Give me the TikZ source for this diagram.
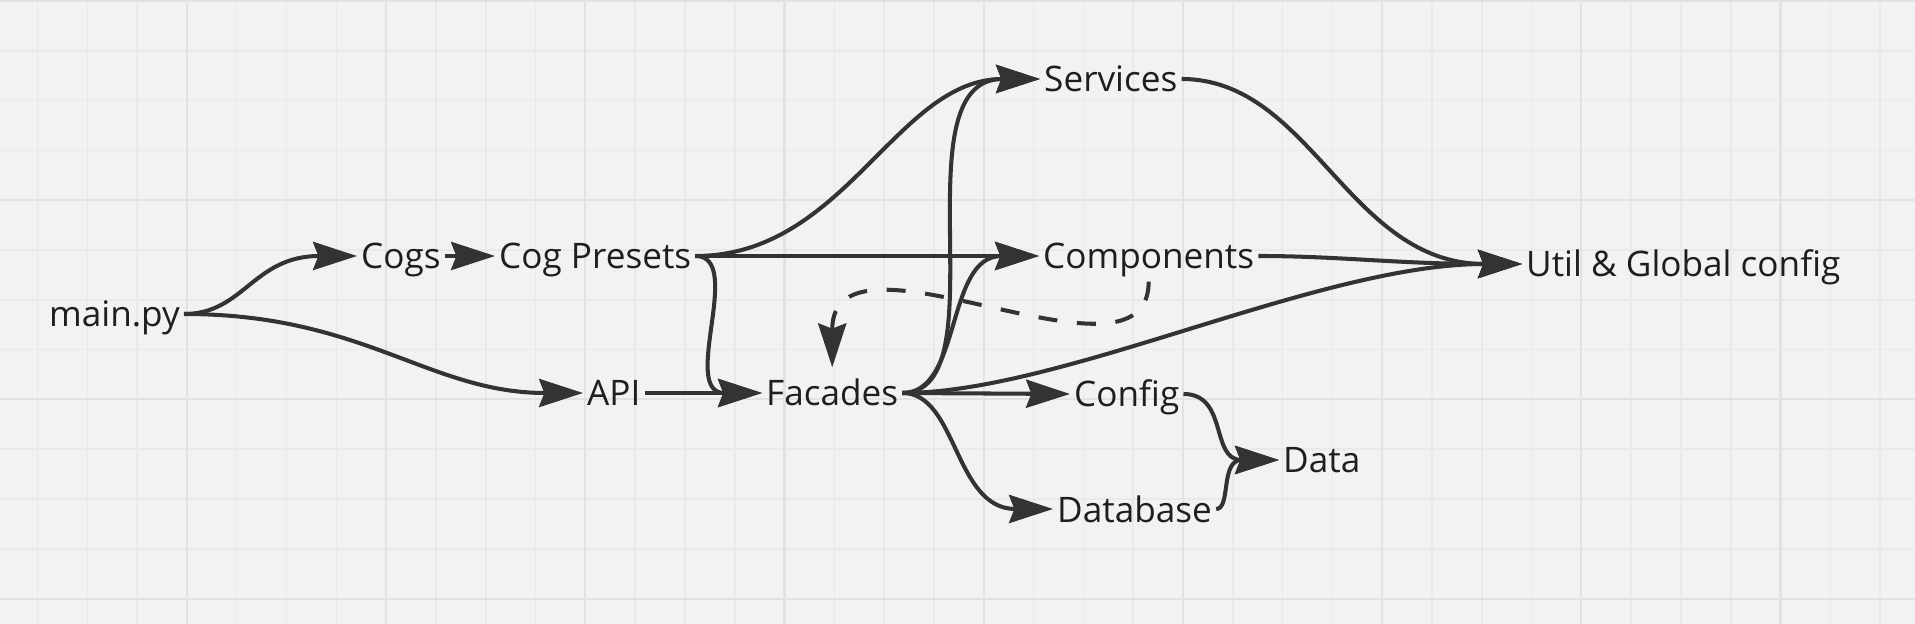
\documentclass[tikz,border=0pt]{standalone}
\usepackage{fontspec}
\setmainfont{Open Sans}
\usepackage{tikz}
\usetikzlibrary{positioning,arrows.meta}
\definecolor{board}{HTML}{F2F2F2}
\definecolor{gridminor}{HTML}{E9E9E9}
\definecolor{gridmajor}{HTML}{E2E2E2}
\definecolor{ink}{HTML}{333333}
\definecolor{txt}{HTML}{1E1E1E}
\tikzset{>={Stealth[length=12.5pt,width=8pt,inset=1.5pt]}}
\tikzset{
  module/.style={font=\fontsize{10}{12}\selectfont,text=txt,inner xsep=1pt,inner ysep=0pt,
    text height=10.8pt,text depth=3.4pt},
  link/.style={->,draw=ink,line width=1.15pt},
}

\begin{document}
\begin{tikzpicture}
\useasboundingbox (0,0) rectangle (19.15,6.24);
% board with grid
\fill[board] (0,0) rectangle (19.15,6.24);
\foreach \i in {0,...,37} \draw[gridminor,line width=0.45pt] ({0.375+0.498*\i},0) -- ++(0,6.24);
\foreach \j in {0,...,12} \draw[gridminor,line width=0.45pt] (0,{6.23-0.498*\j}) -- ++(19.15,0);
\foreach \i in {0,...,8} \draw[gridmajor,line width=0.6pt] ({1.869+1.992*\i},0) -- ++(0,6.24);
\foreach \j in {0,...,3} \draw[gridmajor,line width=0.6pt] (0,{6.23-1.992*\j}) -- ++(19.15,0);

\node[module,anchor=east] (main) at (1.84,3.10) {main.py};
\node[module,anchor=west] (cogs) at (3.57,3.68) {Cogs};
\node[module,anchor=west] (presets) at (4.95,3.68) {Cog Presets};
\node[module,anchor=west] (api) at (5.83,2.31) {API};
\node[module,anchor=west] (facades) at (7.62,2.31) {Facades};
\node[module,anchor=west] (services) at (10.40,5.45) {Services};
\node[module,anchor=west] (components) at (10.39,3.68) {Components};
\node[module,anchor=west] (util) at (15.22,3.60) {Util \& Global config};
\node[module,anchor=west] (config) at (10.70,2.30) {Config};
\node[module,anchor=west] (data) at (12.79,1.64) {Data};
\node[module,anchor=west] (database) at (10.53,1.15) {Database};

\draw[link] (main.east) .. controls +(0.6,0) and +(-1.04,0) .. (cogs.west);
\draw[link] (main.east) .. controls +(1.8,0) and +(-1.54,0) .. (api.west);
\draw[link] (cogs.east) -- (presets.west);
\draw[link] (presets.east) .. controls +(1.5,0) and +(-1.44,0) .. (services.west);
\draw[link] (presets.east) -- (components.west);
\draw[link] (presets.east) .. controls +(0.5,0) and +(-0.83,0) .. (facades.west);
\draw[link] (api.east) -- (facades.west);
\draw[link] (facades.east) .. controls +(1.0,0) and +(-1.44,0) .. (services.west);
\draw[link] (facades.east) .. controls +(0.6,0) and +(-0.94,0) .. (components.west);
\draw[link] (facades.east) -- (config.west);
\draw[link] (facades.east) .. controls +(0.55,0) and +(-0.99,0) .. (database.west);
\draw[link] (facades.east) .. controls +(1.6,0) and +(-2.04,0) .. (util.west);
\draw[link] (services.east) .. controls +(1.3,0) and +(-1.74,0) .. (util.west);
\draw[link] (components.east) .. controls +(0.8,0) and +(-1.24,0) .. (util.west);
\draw[link] (config.east) .. controls +(0.45,0) and +(-0.69,0) .. (data.west);
\draw[link] (database.east) .. controls +(0.15,0) and +(-0.59,0) .. (data.west);
\draw[link,dash pattern=on 5.4pt off 5.6pt] (components.south) .. controls +(0,-1.21) and +(0,1.55) .. (facades.north);
\end{tikzpicture}
\end{document}
